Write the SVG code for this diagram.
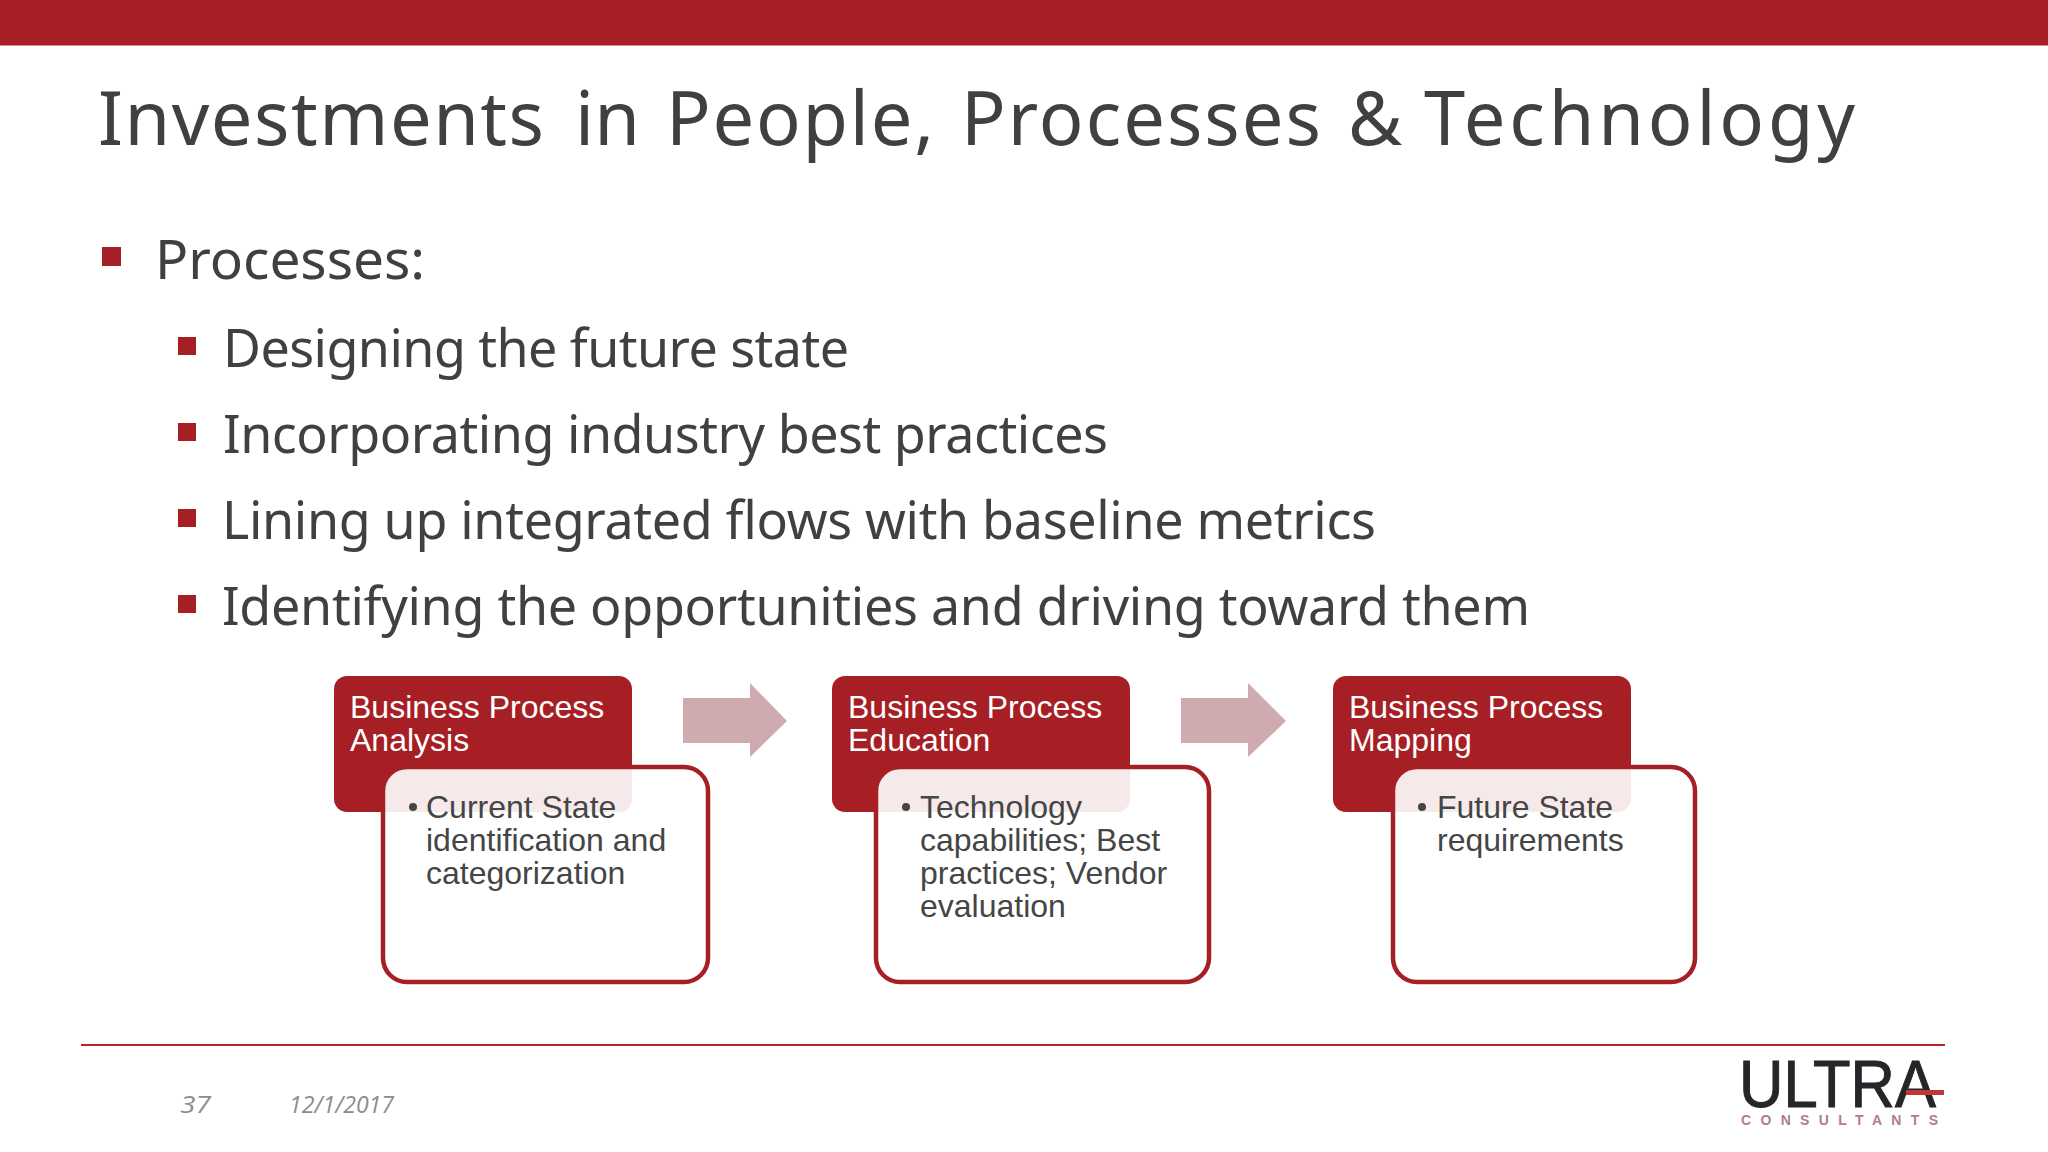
<svg xmlns="http://www.w3.org/2000/svg" width="2048" height="1152" viewBox="0 0 2048 1152">
<style>
.ttl{font-family:"Noto Sans","Open Sans",sans-serif;fill:#404040}
.b1{font-size:55px}
.b2{font-size:52px}
.sq{fill:#a61f24}
.hdr{fill:#a61f24}
.det{fill:#fff;fill-opacity:.9;stroke:#a61f24;stroke-width:4.5}
.ht{font-family:"Liberation Sans",Arial,sans-serif;font-size:32px;fill:#fff}
.dt{font-family:"Liberation Sans",Arial,sans-serif;font-size:32px;fill:#454545}
.dot{fill:#454545}
.arr{fill:#cfabaf}
.ft{font-family:"Open Sans","Noto Sans",sans-serif;font-size:24px;font-style:italic;fill:#8c8c8c}
</style>
<rect width="2048" height="1152" fill="#fff"/>
<rect width="2048" height="45.5" fill="#a61f24"/>
<text class="ttl" y="145" font-size="74"><tspan x="98" textLength="446" lengthAdjust="spacing">Investments</tspan> <tspan x="575" textLength="65" lengthAdjust="spacing">in</tspan> <tspan x="666" textLength="268" lengthAdjust="spacing">People,</tspan> <tspan x="961" textLength="360" lengthAdjust="spacing">Processes</tspan> <tspan x="1348" textLength="52" lengthAdjust="spacing">&amp;</tspan> <tspan x="1424" textLength="431" lengthAdjust="spacing">Technology</tspan></text>
<rect class="sq" x="102" y="247" width="19" height="19"/>
<text class="ttl b1" x="155" y="279" textLength="270" lengthAdjust="spacing">Processes:</text>
<rect class="sq" x="178" y="337" width="18" height="18"/>
<text class="ttl b2" x="223" y="367" textLength="626" lengthAdjust="spacing">Designing the future state</text>
<rect class="sq" x="178" y="423" width="18" height="18"/>
<text class="ttl b2" x="223" y="453" textLength="885" lengthAdjust="spacing">Incorporating industry best practices</text>
<rect class="sq" x="178" y="509" width="18" height="18"/>
<text class="ttl b2" x="222" y="539" textLength="1154" lengthAdjust="spacing">Lining up integrated flows with baseline metrics</text>
<rect class="sq" x="178" y="595" width="18" height="18"/>
<text class="ttl b2" x="222" y="625" textLength="1308" lengthAdjust="spacing">Identifying the opportunities and driving toward them</text>
<g id="connectors">
<path class="arr" d="M683 698H750V683L787 721L750 757V743H683Z"/>
<path class="arr" d="M1181 698H1248V683L1286 721L1248 757V743H1181Z"/>
</g>
<g id="node-analysis">
<rect class="hdr" x="334" y="676" width="298" height="136" rx="13"/>
<text class="ht" x="350" y="718">Business Process</text>
<text class="ht" x="350" y="751">Analysis</text>
<rect class="det" x="383" y="767" width="325" height="215" rx="24"/>
<circle class="dot" cx="413" cy="807" r="4"/>
<text class="dt" x="426" y="818">Current State</text>
<text class="dt" x="426" y="851">identification and</text>
<text class="dt" x="426" y="884">categorization</text>
</g>
<g id="node-education">
<rect class="hdr" x="832" y="676" width="298" height="136" rx="13"/>
<text class="ht" x="848" y="718">Business Process</text>
<text class="ht" x="848" y="751">Education</text>
<rect class="det" x="876" y="767" width="333" height="215" rx="24"/>
<circle class="dot" cx="906" cy="807" r="4"/>
<text class="dt" x="920" y="818">Technology</text>
<text class="dt" x="920" y="851">capabilities; Best</text>
<text class="dt" x="920" y="884">practices; Vendor</text>
<text class="dt" x="920" y="917">evaluation</text>
</g>
<g id="node-mapping">
<rect class="hdr" x="1333" y="676" width="298" height="136" rx="13"/>
<text class="ht" x="1349" y="718">Business Process</text>
<text class="ht" x="1349" y="751">Mapping</text>
<rect class="det" x="1393" y="767" width="302" height="215" rx="24"/>
<circle class="dot" cx="1422" cy="807" r="4"/>
<text class="dt" x="1437" y="818">Future State</text>
<text class="dt" x="1437" y="851">requirements</text>
</g>
<line x1="81" y1="1045" x2="1945" y2="1045" stroke="#b5262b" stroke-width="2"/>
<text class="ft" x="180" y="1113" textLength="31" lengthAdjust="spacingAndGlyphs">37</text>
<text class="ft" x="289" y="1113" textLength="105" lengthAdjust="spacingAndGlyphs">12/1/2017</text>
<text x="1739" y="1107" font-family="Liberation Sans,Arial,sans-serif" font-size="66" fill="#26262a" stroke="#26262a" stroke-width="1" textLength="197" lengthAdjust="spacingAndGlyphs">ULTRA</text>
<rect x="1906" y="1090" width="38" height="5" fill="#c0343a"/>
<text x="1741" y="1125" font-family="Liberation Sans,Arial,sans-serif" font-size="14" font-weight="bold" fill="#b27d88" textLength="197" lengthAdjust="spacing">CONSULTANTS</text>
</svg>
